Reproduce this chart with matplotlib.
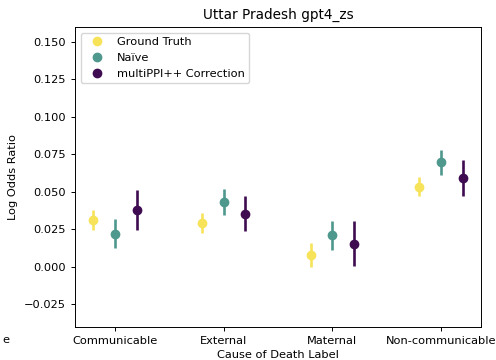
import matplotlib
matplotlib.use('Agg')
import matplotlib.pyplot as plt
import numpy as np

# categories and series (log odds ratio, half-width of the interval)
categories = ['Communicable', 'External', 'Maternal', 'Non-communicable']
series_names = ['Ground Truth', 'Naïve', 'multiPPI++ Correction']

truth_vals = [0.0312, 0.0295, 0.0078, 0.0534]
truth_err = [0.0068, 0.0066, 0.0079, 0.0064]
naive_vals = [0.0222, 0.0431, 0.0210, 0.0697]
naive_err = [0.0095, 0.0086, 0.0096, 0.0083]
ppi_vals = [0.0378, 0.0356, 0.0155, 0.0593]
ppi_err = [0.0133, 0.0117, 0.0150, 0.0117]

colors = ['#f6e35a', '#4f988d', '#3f0c52']
offsets = [-0.2, 0.0, 0.2]


def main():
    plt.rcParams['font.size'] = 8.2
    plt.rcParams['axes.titlesize'] = 9.8
    plt.rcParams['axes.linewidth'] = 0.7

    fig = plt.figure(figsize=(4.96, 3.6), dpi=100)
    ax = fig.add_axes([0.151, 0.092, 0.819, 0.833])

    x = np.arange(len(categories))
    vals = [truth_vals, naive_vals, ppi_vals]
    errs = [truth_err, naive_err, ppi_err]
    for name, v, e, c, off in zip(series_names, vals, errs, colors, offsets):
        ax.errorbar(x + off, v, yerr=e, fmt='none', ecolor=c, elinewidth=1.9)
        ax.plot(x + off, v, 'o', color=c, markersize=6, linestyle='none', label=name)

    ax.set_xticks(x)
    ax.set_xticklabels(categories)
    ax.set_ylim(-0.04, 0.16)
    ax.set_yticks([-0.025, 0.0, 0.025, 0.05, 0.075, 0.1, 0.125, 0.15])
    ax.tick_params(width=0.7, length=3)
    ax.set_xlabel('Cause of Death Label', labelpad=3)
    ax.set_ylabel('Log Odds Ratio')
    ax.set_title('Uttar Pradesh gpt4_zs')
    ax.legend(loc='upper left')

    # tail of the neighbouring panel's tick label, cut off by the crop
    fig.text(0.004, 0.055, 'e', fontsize=8.2, va='center')

    fig.savefig('out.png', dpi=100)

if __name__ == '__main__':
    main()
